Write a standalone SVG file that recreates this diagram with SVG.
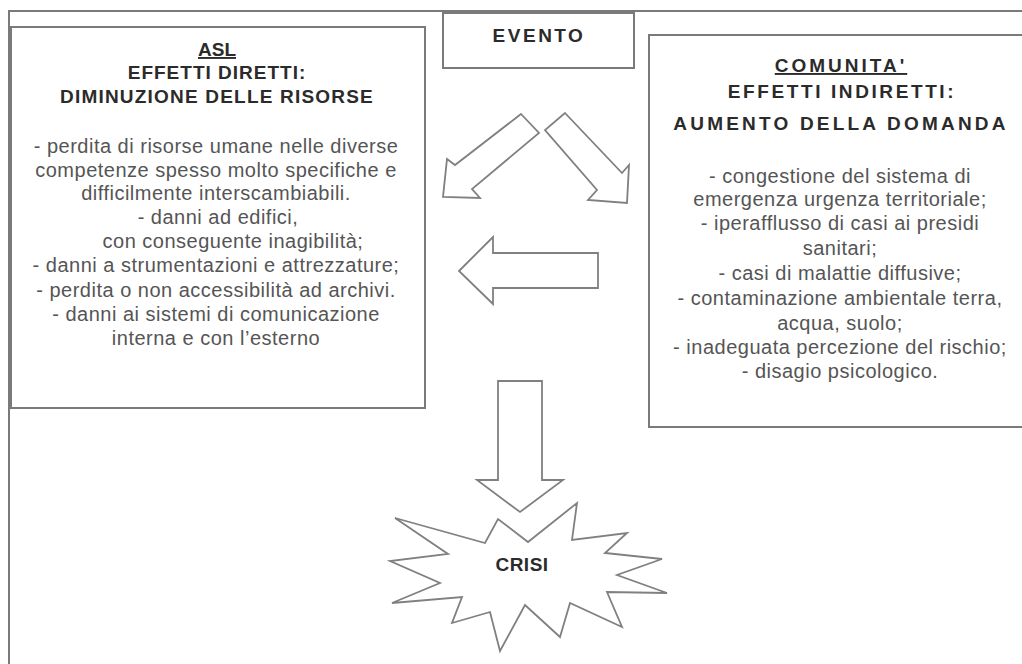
<svg xmlns="http://www.w3.org/2000/svg" width="1022" height="664" viewBox="0 0 1022 664">
<style>
.frame{fill:none;stroke:#7a7a7a;stroke-width:2}
.box{fill:#fff;stroke:#7a7a7a;stroke-width:2}
.shape{fill:#fff;stroke:#808080;stroke-width:1.8;stroke-linejoin:miter}
.h{font-family:"Liberation Sans",Arial,sans-serif;font-weight:bold;font-size:19px;fill:#2b2b2b;text-anchor:middle}
.b{font-family:"Liberation Sans",Arial,sans-serif;font-size:20px;fill:#555;text-anchor:middle;letter-spacing:0.5px}
</style>
<rect x="0" y="0" width="1022" height="664" fill="#fff"/>
<path class="frame" d="M1024 11 H9 V666"/>
<g id="asl">
<rect class="box" x="11" y="27" width="414" height="381"/>
<text class="h" x="217" y="56" text-decoration="underline">ASL</text>
<text class="h" x="217" y="79" letter-spacing="1">EFFETTI DIRETTI:</text>
<text class="h" x="217" y="103" letter-spacing="1.2">DIMINUZIONE DELLE RISORSE</text>
<text class="b" x="216" y="153">- perdita di risorse umane nelle diverse</text>
<text class="b" x="216" y="177">competenze spesso molto specifiche e</text>
<text class="b" x="216" y="200">difficilmente interscambiabili.</text>
<text class="b" x="218" y="224">-  danni ad edifici,</text>
<text class="b" x="233" y="248">con conseguente inagibilità;</text>
<text class="b" x="216" y="272">- danni a strumentazioni e attrezzature;</text>
<text class="b" x="216" y="297">- perdita o non accessibilità ad archivi.</text>
<text class="b" x="216" y="321">- danni ai sistemi di comunicazione</text>
<text class="b" x="216" y="345">interna e con l’esterno</text>
</g>
<g id="evento">
<rect class="box" x="443" y="13" width="191" height="55"/>
<text class="h" x="539" y="42" letter-spacing="2.5">EVENTO</text>
</g>
<g id="comunita">
<rect class="box" x="649" y="35" width="375" height="392"/>
<text class="h" x="841" y="72" letter-spacing="3" text-decoration="underline">COMUNITA'</text>
<text class="h" x="842" y="98" letter-spacing="2.6">EFFETTI INDIRETTI:</text>
<text class="h" x="841" y="130" letter-spacing="3.2">AUMENTO DELLA DOMANDA</text>
<text class="b" x="840" y="183">- congestione del sistema di</text>
<text class="b" x="840" y="206">emergenza urgenza territoriale;</text>
<text class="b" x="840" y="230">- iperafflusso di casi ai presidi</text>
<text class="b" x="840" y="255">sanitari;</text>
<text class="b" x="840" y="280">- casi di malattie diffusive;</text>
<text class="b" x="840" y="305">- contaminazione ambientale terra,</text>
<text class="b" x="840" y="330">acqua, suolo;</text>
<text class="b" x="840" y="354">- inadeguata percezione del rischio;</text>
<text class="b" x="840" y="378">- disagio psicologico.</text>
</g>
<g id="connectors">
<polygon class="shape" points="521,114 539,133 472,189 480,198 443,197 447,159 455,165"/>
<polygon class="shape" points="565,113 622,173 629,165 627,203 588,200 597,190 545,130"/>
<polygon class="shape" points="459,271 493,237 493,253 598,253 598,288 493,288 493,304"/>
<polygon class="shape" points="498,381 542,381 542,480 563,480 520,512 477,480 498,480"/>
</g>
<g id="crisi">
<polygon class="shape" points="395,518 485,543 498,519 528,542 577,503 572,540 627,533 605,553 662,559 617,575 667,593 607,592 622,627 570,603 560,637 525,605 500,651 490,612 452,623 462,597 392,603 440,583 390,561 448,554"/>
<text class="h" x="522" y="571" font-size="21" letter-spacing="0.5">CRISI</text>
</g>
</svg>
